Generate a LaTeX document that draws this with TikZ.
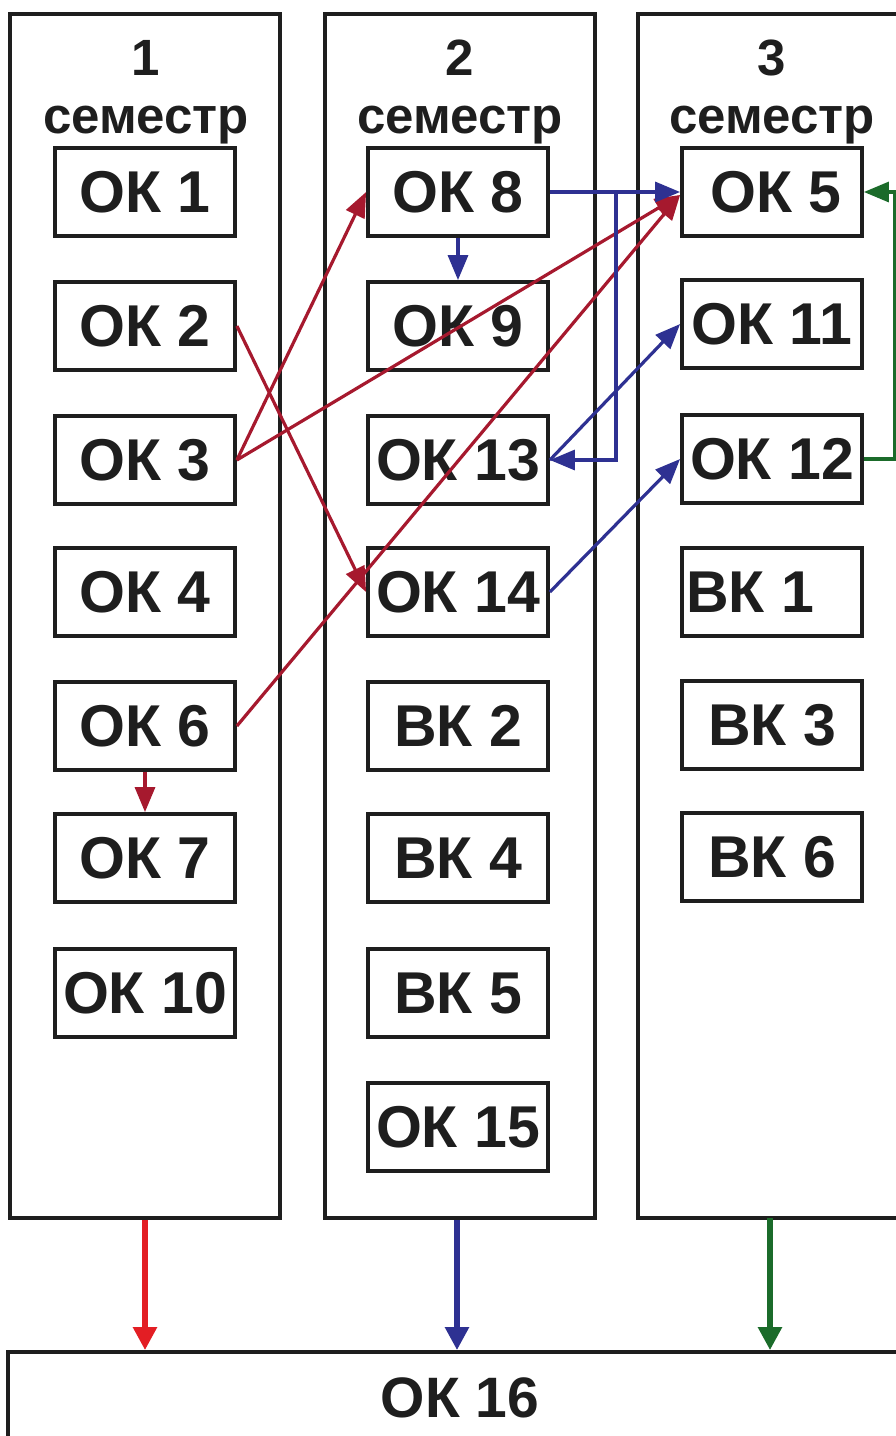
\documentclass[tikz,border=0pt]{standalone}
\usepackage{fontspec}
\setmainfont{Liberation Sans}
\usetikzlibrary{arrows.meta}
\definecolor{dred}{HTML}{A6192E}
\definecolor{bred}{HTML}{E31E24}
\definecolor{dblue}{HTML}{2E3192}
\definecolor{dgreen}{HTML}{1B6B2A}
\definecolor{ink}{HTML}{1E1E1E}
\begin{document}
\begin{tikzpicture}[x=1pt,y=-1pt,
  colbox/.style={draw=ink,line width=3.8pt,inner sep=0pt},
  kbox/.style={draw=ink,line width=3.8pt,minimum width=180pt,minimum height=88pt,inner sep=0pt,
    font=\fontsize{59}{62}\selectfont\bfseries,text=ink},
  head/.style={font=\fontsize{51}{53}\selectfont\bfseries,text=ink,inner sep=0pt,anchor=base},
  thinarrow/.style={line width=3.2pt,-{Triangle[length=25pt,width=20pt]}},
  thickarrow/.style={line width=5.5pt,-{Triangle[length=23pt,width=23pt]}},
]
\useasboundingbox (0,0) rectangle (896,1436);

% columns
\node[colbox,minimum width=270pt,minimum height=1204pt] (c1) at (145,616) {};
\node[colbox,minimum width=270pt,minimum height=1204pt] (c2) at (460,616) {};
\node[colbox,minimum width=272pt,minimum height=1204pt] (c3) at (774,616) {};

% headers
\node[head] (h1) at (146,75) {1};
\node[head] (s1) at (146,133) {семестр};
\node[head] (h2) at (460,75) {2};
\node[head] (s2) at (460,133) {семестр};
\node[head] (h3) at (772,75) {3};
\node[head] (s3) at (772,133) {семестр};

% column 1
\node[kbox] (ok1) at (145,192) {ОК 1};
\node[kbox] (ok2) at (145,326) {ОК 2};
\node[kbox] (ok3) at (145,460) {ОК 3};
\node[kbox] (ok4) at (145,592) {ОК 4};
\node[kbox] (ok6) at (145,726) {ОК 6};
\node[kbox] (ok7) at (145,858) {ОК 7};
\node[kbox] (ok10) at (145,993) {ОК 10};

% column 2
\node[kbox] (ok8) at (458,192) {ОК 8};
\node[kbox] (ok9) at (458,326) {ОК 9};
\node[kbox] (ok13) at (458,460) {ОК 13};
\node[kbox] (ok14) at (458,592) {ОК 14};
\node[kbox] (bk2) at (458,726) {ВК 2};
\node[kbox] (bk4) at (458,858) {ВК 4};
\node[kbox] (bk5) at (458,993) {ВК 5};
\node[kbox] (ok15) at (458,1127) {ОК 15};

% column 3
\node[kbox] (ok5) at (772,192) {\hspace*{8pt}ОК 5};
\node[kbox] (ok11) at (772,324) {ОК 11};
\node[kbox] (ok12) at (772,459) {ОК 12};
\node[kbox] (bk1) at (772,592) {\hspace*{-44pt}ВК 1};
\node[kbox] (bk3) at (772,725) {ВК 3};
\node[kbox] (bk6) at (772,857) {ВК 6};

% bottom box
\node[colbox,minimum width=910pt,minimum height=120pt] (ok16box) at (463,1412) {};
\node[font=\fontsize{57}{60}\selectfont\bfseries,text=ink,inner sep=0pt] (ok16) at (460,1398) {ОК 16};

% red connectors
\draw[thinarrow,dred] (ok3.east) -- (ok8.west);
\draw[thinarrow,dred] (ok3.east) -- ([yshift=-3pt]ok5.west);
\draw[thinarrow,dred] (ok2.east) -- (ok14.west);
\draw[thinarrow,dred] (ok6.east) -- ([yshift=-3pt]ok5.west);
\draw[thinarrow,dred] (ok6.south) -- (ok7.north);

% blue connectors
\coordinate (br) at (616,192);
\draw[thinarrow,dblue] (ok8.east) -- (ok5.west);
\draw[thinarrow,dblue] (br) |- (ok13.east);
\draw[thinarrow,dblue] (ok8.south) -- (ok9.north);
\draw[thinarrow,dblue] (ok13.east) -- (ok11.west);
\draw[thinarrow,dblue] (ok14.east) -- (ok12.west);

% green connector
\draw[thinarrow,dgreen] (ok12.east) -- ++(31,0) |- (ok5.east);

% bottom arrows
\coordinate (b3) at (770,1218);
\draw[thickarrow,bred] (c1.south) -- (c1.south |- ok16box.north);
\draw[thickarrow,dblue] ([xshift=-3pt]c2.south) -- ([xshift=-3pt]c2.south |- ok16box.north);
\draw[thickarrow,dgreen] (b3) -- (b3 |- ok16box.north);
\end{tikzpicture}
\end{document}
